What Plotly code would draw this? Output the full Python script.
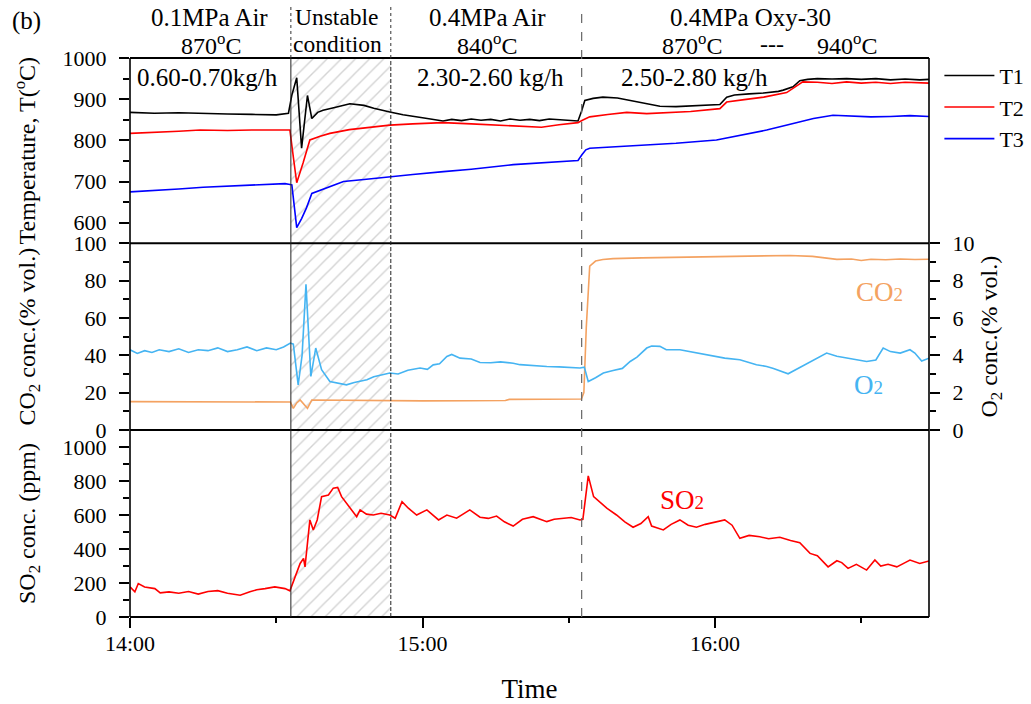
import plotly.graph_objects as go

# ---------------- data (minutes after 14:00) ----------------
tick_vals = [0, 60, 120]
tick_text = ["14:00", "15:00", "16:00"]
minor_vals = [30, 90, 150]
x_end = 163.9
unstable_window = [33.0, 53.5]
oxy_switch = 92.65

t1_t = [0, 5, 10, 15, 20, 25, 30, 32.5, 33.2, 34.2, 35.2, 36.4, 37.3, 38.5, 39.6, 42, 45.1, 48, 50, 53.3, 56, 60, 64.2,
        66, 68, 70, 72, 74, 76, 78, 80, 82, 84, 86, 88, 90, 91.9, 92.6, 93.3, 95, 97, 100, 103, 106, 108.7, 112, 116,
        119, 121, 122.4, 124, 127, 130, 133, 134, 136, 137.4, 139, 141, 144, 147, 150, 153, 156, 159, 162, 163.9]
t1_v = [868, 866, 867, 865, 864, 863, 862, 866, 910, 952, 781, 909, 853, 868, 873, 880, 889, 885, 878, 869, 862, 855, 847,
        851, 848, 852, 849, 851, 847, 852, 849, 851, 848, 852, 850, 848, 847, 870, 897, 902, 905, 903, 896, 888, 883, 882,
        884, 885, 887, 905, 910, 913, 915, 919, 922, 930, 945, 948, 950, 949, 950, 948, 950, 947, 949, 947, 948]

t2_t = [0, 5, 10, 14.4, 20, 25, 30, 32.8, 33.5, 34.2, 35.5, 36.9, 39, 41, 45, 50, 53.3, 58, 64.2, 70, 75.2, 80, 84.4, 88,
        91.9, 92.8, 94.3, 98, 101.9, 106, 110, 115, 121, 122.4, 126, 130, 134.7, 136.5, 138, 141, 144, 147, 150, 153,
        156, 159, 162, 163.9]
t2_v = [817, 819, 822, 825, 824, 825, 825, 825, 760, 697, 745, 801, 810, 817, 826, 832, 837, 840, 843, 840, 837, 835, 832,
        838, 843, 849, 857, 863, 868, 865, 867, 870, 877, 893, 899, 905, 916, 930, 942, 941, 938, 942, 939, 941, 938, 941,
        940, 939]

t3_t = [0, 5, 10, 15, 20, 25, 31.8, 33.2, 34.2, 35.2, 36.2, 37.3, 40, 43.8, 48, 53.3, 58, 64.3, 70, 78.6, 85, 91.9, 92.7,
        93.5, 94.3, 100, 106, 112, 120.3, 125, 130.6, 135, 140.2, 144.2, 148, 152, 156, 160, 163.9]
t3_v = [675, 678, 682, 686, 689, 692, 695, 692, 588, 610, 636, 671, 683, 700, 705, 712, 717, 724, 730, 741, 746, 751, 765,
        777, 781, 785, 789, 793, 801, 812, 825, 838, 853, 861, 859, 857, 858, 860, 858]

co2_t = [0, 10, 20, 30, 32.9, 33.5, 34.2, 34.9, 35.7, 36.4, 37.3, 40, 45, 53.5, 60, 70, 77, 77.8, 85, 92.6, 93.1, 93.6,
         94.3, 95.5, 97, 99.1, 105, 115, 125, 135.4, 140, 145, 148, 150, 152, 155, 158, 161, 163.9]
co2_v = [15.2, 15.1, 15.3, 15.1, 15.0, 11.6, 14.5, 16.1, 14.0, 11.6, 16.1, 16.0, 15.8, 15.5, 15.6, 15.7, 15.8, 16.4, 16.5,
         16.6, 20, 55, 87.8, 90.5, 91.3, 91.8, 92.2, 92.5, 93.0, 93.5, 93.0, 91.4, 91.6, 90.8, 91.5, 91.2, 91.6, 91.3, 91.5]

o2_t = [0, 1.5, 3, 4.5, 6, 8, 10, 12, 14, 16, 18, 20, 22, 24, 26, 28, 30, 31.5, 32.9, 33.5, 34.5, 35.3, 36.1, 37.1, 38.1,
        39.3, 41, 44.4, 46, 48.6, 50, 52, 53.3, 55, 57, 59.5, 61, 62.2, 63.5, 65, 66, 67.7, 70, 71.8, 74, 76, 78.6, 80, 82,
        85.5, 88, 90, 92.3, 93.2, 94, 95.5, 97.1, 99.1, 101, 102.6, 104, 106, 107, 108.7, 110, 112.8, 115, 117, 119.7,
        122, 125.1, 127, 128.5, 130.6, 132, 135, 137, 140.2, 142.9, 145, 147, 149, 151.1, 153, 154.5, 156, 158, 160,
        161, 162.4, 163.9]
o2_v = [4.3, 4.1, 4.25, 4.15, 4.3, 4.2, 4.35, 4.15, 4.3, 4.25, 4.4, 4.2, 4.3, 4.45, 4.25, 4.4, 4.3, 4.45, 4.66, 4.6, 2.42,
        4.0, 7.8, 2.87, 4.39, 3.23, 2.6, 2.42, 2.55, 2.69, 2.85, 2.95, 3.05, 3.0, 3.2, 3.32, 3.25, 3.49, 3.55, 3.94, 4.05,
        3.85, 3.8, 3.62, 3.6, 3.65, 3.58, 3.5, 3.45, 3.4, 3.38, 3.35, 3.32, 3.37, 2.6, 2.8, 3.05, 3.19, 3.3, 3.67, 3.9,
        4.39, 4.5, 4.48, 4.3, 4.3, 4.2, 4.1, 3.98, 3.85, 3.76, 3.6, 3.5, 3.4, 3.3, 3.01, 3.3, 3.76, 4.12, 3.95, 3.85,
        3.75, 3.67, 3.75, 4.39, 4.2, 4.12, 4.3, 4.12, 3.7, 3.85]

so2_t = [0, 1, 1.7, 3, 5.1, 6.2, 8, 10, 12, 14, 16, 18, 20, 22.6, 24.6, 26, 27.7, 29.7, 31.8, 32.8, 34.9, 35.6, 35.9, 36.9,
         37.6, 38.4, 39.3, 40.7, 41.7, 42.6, 43.4, 45.1, 46.5, 47.2, 48.5, 49.9, 51.5, 53.3, 54.4, 55.8, 57.1, 58.8, 60.9,
         63.3, 65, 67, 69.7, 71.8, 73.5, 75.2, 76.8, 78.6, 80.5, 82.7, 84, 85.5, 87, 88.9, 90.5, 92.3, 92.9, 94, 95.1,
         97.8, 99.8, 101.5, 103.2, 104.8, 106.3, 107, 109.4, 111, 112.8, 114.5, 116.2, 118, 120, 122, 123.5, 125.1, 127,
         129.2, 131, 133.3, 135.5, 137.4, 139.5, 141, 143.2, 145, 146, 147.3, 149, 151.1, 152.8, 154, 155.5, 157.3, 159,
         160, 162, 163.9]
so2_v = [177, 148, 197, 177, 167, 142, 148, 140, 150, 135, 150, 155, 140, 128, 148, 160, 167, 177, 167, 154, 315, 345, 295,
         571, 512, 571, 708, 718, 758, 762, 708, 640, 590, 630, 605, 600, 610, 600, 581, 679, 640, 600, 630, 571, 600,
         581, 630, 587, 580, 594, 560, 535, 575, 590, 575, 561, 575, 581, 585, 571, 575, 830, 708, 640, 600, 560, 528,
         550, 590, 535, 512, 545, 571, 540, 528, 545, 560, 571, 540, 463, 480, 472, 460, 469, 450, 437, 374, 360, 295,
         331, 320, 286, 310, 276, 335, 300, 310, 295, 320, 335, 315, 330, 319]

temp_range = [550, 1000]
co2_range = [0, 100]
o2_range = [0, 10]
so2_range = [0, 1100]

# ---------------- figure ----------------
FONT = "Liberation Serif"
d_top = [0.6685, 1.0]
d_mid = [0.3345, 0.6685]
d_bot = [0.0, 0.3345]

fig = go.Figure()

a, b = unstable_window
for ax, rng in [("y", temp_range), ("y2", co2_range), ("y3", so2_range)]:
    fig.add_trace(go.Scatter(
        x=[a, b, b, a, a], y=[rng[0], rng[0], rng[1], rng[1], rng[0]], xaxis="x", yaxis=ax,
        mode="lines", fill="toself", fillcolor="rgba(0,0,0,0)",
        fillpattern=dict(shape="/", fgcolor="#a8a8a8", bgcolor="white", size=10, solidity=0.14),
        line=dict(color="rgba(0,0,0,0)", width=0), showlegend=False, hoverinfo="skip"))

fig.add_trace(go.Scatter(x=t1_t, y=t1_v, mode="lines", name="T1", line=dict(color="black", width=1.6), yaxis="y"))
fig.add_trace(go.Scatter(x=t2_t, y=t2_v, mode="lines", name="T2", line=dict(color="#ff0000", width=1.6), yaxis="y"))
fig.add_trace(go.Scatter(x=t3_t, y=t3_v, mode="lines", name="T3", line=dict(color="#0000ff", width=1.6), yaxis="y"))
fig.add_trace(go.Scatter(x=co2_t, y=co2_v, mode="lines", name="CO2", line=dict(color="#f4a261", width=1.6),
                         yaxis="y2", showlegend=False))
fig.add_trace(go.Scatter(x=o2_t, y=o2_v, mode="lines", name="O2", line=dict(color="#45b4f2", width=1.6),
                         yaxis="y4", showlegend=False))
fig.add_trace(go.Scatter(x=so2_t, y=so2_v, mode="lines", name="SO2", line=dict(color="#ff0000", width=1.6),
                         yaxis="y3", showlegend=False))

tick_font = dict(family=FONT, size=22, color="black")
title_font = dict(family=FONT, size=24, color="black")
minor_common = dict(ticks="outside", ticklen=6, tickcolor="black", tickwidth=1.5)
common_y = dict(showgrid=False, zeroline=False, ticks="outside", ticklen=10, tickwidth=1.5, tickcolor="black",
                tickfont=tick_font, showline=False, automargin=False)

fig.update_layout(
    width=1031, height=704,
    margin=dict(l=130, r=102, t=58, b=87, autoexpand=False),
    paper_bgcolor="white", plot_bgcolor="white",
    font=dict(family=FONT, size=22, color="black"),
    xaxis=dict(domain=[0, 1], range=[0, x_end], anchor="y3", tickmode="array", tickvals=tick_vals,
               ticktext=tick_text, ticks="outside", ticklen=10, tickwidth=1.5, tickcolor="black",
               minor=dict(tickmode="array", tickvals=minor_vals, ticks="outside", ticklen=5, tickwidth=1.5,
                          tickcolor="black"),
               showgrid=False, zeroline=False, showline=False, tickfont=tick_font, automargin=False,
               ticklabelstandoff=-3,
               title=dict(text="Time", font=dict(family=FONT, size=27), standoff=27)),
    yaxis=dict(domain=d_top, range=temp_range, anchor="x", tick0=0, dtick=100, ticklabelstandoff=8,
               minor=dict(dtick=50, tick0=0, **minor_common),
               title=dict(text="Temperature, T(<sup>o</sup>C)", font=title_font, standoff=20), **common_y),
    yaxis2=dict(domain=d_mid, range=co2_range, anchor="x", tick0=0, dtick=20, ticklabelstandoff=8,
                minor=dict(dtick=10, tick0=0, **minor_common),
                title=dict(text="CO<sub>2</sub> conc.(% vol.)", font=title_font, standoff=31), **common_y),
    yaxis3=dict(domain=d_bot, range=so2_range, anchor="x", tick0=0, dtick=200, ticklabelstandoff=8,
                minor=dict(dtick=100, tick0=0, **minor_common),
                title=dict(text="SO<sub>2</sub> conc. (ppm)", font=title_font, standoff=20), **common_y),
    yaxis4=dict(overlaying="y2", side="right", range=o2_range, anchor="x", tick0=0, dtick=2, ticklabelstandoff=8,
                minor=dict(dtick=1, tick0=0, **minor_common),
                title=dict(text="O<sub>2</sub> conc.(% vol.)", font=title_font, standoff=6), **common_y),
    legend=dict(x=1.013, y=1.006, xanchor="left", yanchor="top", font=dict(family=FONT, size=22),
                bgcolor="rgba(0,0,0,0)", itemwidth=50, tracegroupgap=0),
    showlegend=True,
)

# frame lines
shapes = []
for yv in [0, d_mid[0], d_top[0], 1]:
    shapes.append(dict(type="line", xref="paper", yref="paper", x0=0, x1=1, y0=yv, y1=yv,
                       line=dict(color="black", width=2)))
for xv in [0, 1]:
    shapes.append(dict(type="line", xref="paper", yref="paper", x0=xv, x1=xv, y0=0, y1=1,
                       line=dict(color="black", width=1.6)))
# unstable-window borders: solid start, dashed end inside the plot, dotted above it
shapes.append(dict(type="line", xref="x", yref="paper", x0=a, x1=a, y0=0, y1=1,
                   line=dict(color="#222222", width=1)))
shapes.append(dict(type="line", xref="x", yref="paper", x0=b, x1=b, y0=0, y1=1,
                   line=dict(color="#222222", width=1, dash="4px,2px")))
for xv in unstable_window:
    shapes.append(dict(type="line", xref="x", yref="paper", x0=xv, x1=xv, y0=1, y1=1.095,
                       line=dict(color="#333333", width=1, dash="dot")))
shapes.append(dict(type="line", xref="x", yref="paper", x0=oxy_switch, x1=oxy_switch, y0=0, y1=1.082,
                   line=dict(color="#666666", width=1.2, dash="dash")))
fig.update_layout(shapes=shapes)


def px2paper(px, py):
    # page pixel -> paper fraction (plot area spans x 130..929, y 58..617)
    return (px - 130) / 799.0, (617 - py) / 559.0


def add_text(text, px, py, size=25, color="black", xanchor="center"):
    xp, yp = px2paper(px, py)
    fig.add_annotation(text=text, x=xp, y=yp, xref="paper", yref="paper", showarrow=False,
                       xanchor=xanchor, yanchor="middle", font=dict(family=FONT, size=size, color=color))


add_text("(b)", 26, 21)
add_text("0.1MPa Air", 209, 17)
add_text("870<sup>o</sup>C", 211, 44, size=24)
add_text("Unstable", 337, 17, size=23.5)
add_text("condition", 337, 44, size=23.5)
add_text("0.4MPa Air", 487, 17)
add_text("840<sup>o</sup>C", 487, 44, size=24)
add_text("0.4MPa Oxy-30", 750, 17)
add_text("870<sup>o</sup>C", 692, 44, size=24)
add_text("---", 772, 44, size=24)
add_text("940<sup>o</sup>C", 847, 44, size=24)
add_text("0.60-0.70kg/h", 207, 77)
add_text("2.30-2.60 kg/h", 490, 77)
add_text("2.50-2.80 kg/h", 694, 77)
add_text("CO<span style='font-size:19px'>2</span>", 879, 292, size=27, color="#f4a261")
add_text("O<span style='font-size:19px'>2</span>", 868, 385, size=27, color="#45b4f2")
add_text("SO<span style='font-size:19px'>2</span>", 682, 500, size=27, color="#ff0000")

# remove the browser's default 8px body margin so the figure sits at the page origin
fig.write_html("out.html", config={"displayModeBar": False},
               post_script="document.body.style.margin='0px';")
